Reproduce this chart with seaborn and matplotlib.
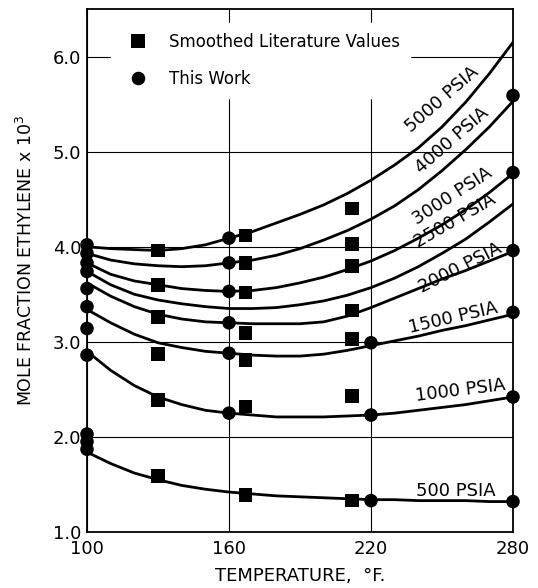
import pandas as pd
import matplotlib
matplotlib.use("Agg")
import matplotlib.pyplot as plt
import seaborn as sns

# smoothed curves, every 10 F
temps = [100, 110, 120, 130, 140, 150, 160, 170, 180, 190,
         200, 210, 220, 230, 240, 250, 260, 270, 280]
curve_5000 = [4.00, 3.98, 3.97, 3.96, 3.98, 4.02, 4.09, 4.16, 4.25, 4.34,
              4.44, 4.56, 4.70, 4.86, 5.04, 5.26, 5.52, 5.82, 6.15]
curve_4000 = [3.93, 3.86, 3.82, 3.80, 3.79, 3.80, 3.83, 3.86, 3.91, 3.98,
              4.07, 4.17, 4.29, 4.43, 4.60, 4.80, 5.02, 5.26, 5.53]
curve_3000 = [3.83, 3.71, 3.64, 3.60, 3.56, 3.54, 3.53, 3.54, 3.57, 3.62,
              3.68, 3.76, 3.85, 3.96, 4.09, 4.23, 4.39, 4.57, 4.77]
curve_2500 = [3.74, 3.60, 3.50, 3.44, 3.40, 3.37, 3.35, 3.35, 3.36, 3.39,
              3.43, 3.49, 3.57, 3.67, 3.79, 3.93, 4.08, 4.26, 4.45]
curve_2000 = [3.62, 3.48, 3.37, 3.29, 3.24, 3.21, 3.20, 3.19, 3.19, 3.19,
              3.21, 3.27, 3.36, 3.46, 3.56, 3.66, 3.75, 3.85, 3.95]
curve_1500 = [3.34, 3.20, 3.08, 2.99, 2.94, 2.90, 2.88, 2.86, 2.85, 2.85,
              2.87, 2.91, 2.96, 3.01, 3.06, 3.12, 3.17, 3.23, 3.29]
curve_1000 = [2.90, 2.70, 2.54, 2.42, 2.34, 2.28, 2.25, 2.23, 2.21, 2.21,
              2.21, 2.22, 2.23, 2.25, 2.28, 2.31, 2.34, 2.38, 2.42]
curve_500 = [1.84, 1.72, 1.62, 1.55, 1.49, 1.45, 1.42, 1.40, 1.38, 1.37,
             1.36, 1.35, 1.34, 1.34, 1.33, 1.33, 1.33, 1.32, 1.32]

pressures = ["5000 PSIA", "4000 PSIA", "3000 PSIA", "2500 PSIA",
             "2000 PSIA", "1500 PSIA", "1000 PSIA", "500 PSIA"]
curves = [curve_5000, curve_4000, curve_3000, curve_2500,
          curve_2000, curve_1500, curve_1000, curve_500]

# measured points
work_t = [100, 100, 100, 100, 100, 100, 100, 100, 100, 100, 100,
          160, 160, 160, 160, 160, 160,
          220, 220, 220,
          280, 280, 280, 280, 280, 280]
work_y = [4.02, 3.93, 3.83, 3.74, 3.56, 3.37, 3.14, 2.86, 2.03, 1.95, 1.87,
          4.09, 3.83, 3.53, 3.20, 2.88, 2.25,
          2.99, 2.23, 1.33,
          5.59, 4.78, 3.96, 3.31, 2.42, 1.32]
lit_t = [130, 130, 130, 130, 130, 130,
         167, 167, 167, 167, 167, 167, 167,
         212, 212, 212, 212, 212, 212, 212]
lit_y = [3.96, 3.60, 3.26, 2.87, 2.39, 1.59,
         4.12, 3.83, 3.52, 3.09, 2.81, 2.32, 1.39,
         4.40, 4.03, 3.80, 3.33, 3.03, 2.43, 1.33]

# where each curve label sits (data coords) and its slant
label_t = [250.0, 254.2, 254.2, 255.5, 257.6, 254.6, 257.6, 255.9]
label_y = [5.55, 5.12, 4.53, 4.27, 3.78, 3.25, 2.49, 1.43]
label_rot = [41, 41, 33, 30, 27, 13, 7, 0]

curve_df = pd.DataFrame({
    "temp": temps * len(curves),
    "frac": [v for c in curves for v in c],
    "pressure": [p for p in pressures for _ in temps],
})
points_df = pd.DataFrame({
    "temp": lit_t + work_t,
    "frac": lit_y + work_y,
    "source": ["Smoothed Literature Values"] * len(lit_t) + ["This Work"] * len(work_t),
})

sns.set_theme(style="white")
plt.rcParams["font.family"] = ["DejaVu Sans"]
plt.rcParams["text.color"] = "black"
plt.rcParams["axes.labelcolor"] = "black"

fig = plt.figure(figsize=(5.38, 5.88), dpi=100)
ax = fig.add_axes([87 / 538, 1 - 532 / 588, 426 / 538, 523 / 588])

ax.set_xlim(100, 280)
ax.set_ylim(1.0, 6.5)
ax.set_xticks([100, 160, 220, 280])
ax.set_yticks([1, 2, 3, 4, 5, 6])
ax.set_yticklabels(["1.0", "2.0", "3.0", "4.0", "5.0", "6.0"])
ax.grid(True, color="black", linewidth=0.8)
ax.set_axisbelow(True)

sns.lineplot(data=curve_df, x="temp", y="frac", units="pressure", estimator=None,
             color="black", linewidth=2.0, ax=ax, legend=False)
sns.scatterplot(data=points_df, x="temp", y="frac", style="source",
                markers={"Smoothed Literature Values": "s", "This Work": "o"},
                color="black", s=95, edgecolor="black", linewidth=0,
                ax=ax, clip_on=False, zorder=5)

for name, t, y, r in zip(pressures, label_t, label_y, label_rot):
    ax.text(t, y, name, rotation=r, rotation_mode="anchor", ha="center",
            va="center", fontsize=13, color="black")

leg = ax.legend(loc="upper left", bbox_to_anchor=(0.037, 0.99), frameon=True,
                fontsize=12, handletextpad=0.9, labelspacing=1.15,
                borderpad=0.6, markerscale=1.0)
leg.get_frame().set_facecolor("white")
leg.get_frame().set_edgecolor("white")
leg.get_frame().set_alpha(1)
leg.set_zorder(6)
for txt in leg.get_texts():
    txt.set_color("black")

for s in ax.spines.values():
    s.set_color("black")
    s.set_linewidth(1.3)
ax.tick_params(axis="both", length=0, labelsize=13, colors="black")
ax.tick_params(axis="x", pad=6)
ax.tick_params(axis="y", pad=4)

ax.set_xlabel("TEMPERATURE,  °F.", fontsize=13, color="black")
ax.set_ylabel("MOLE FRACTION ETHYLENE x 10$^3$", fontsize=12.5, color="black")
ax.xaxis.set_label_coords(0.5, -0.067)
ax.yaxis.set_label_coords(-0.12, 0.52)

fig.savefig("out.png", dpi=100)
